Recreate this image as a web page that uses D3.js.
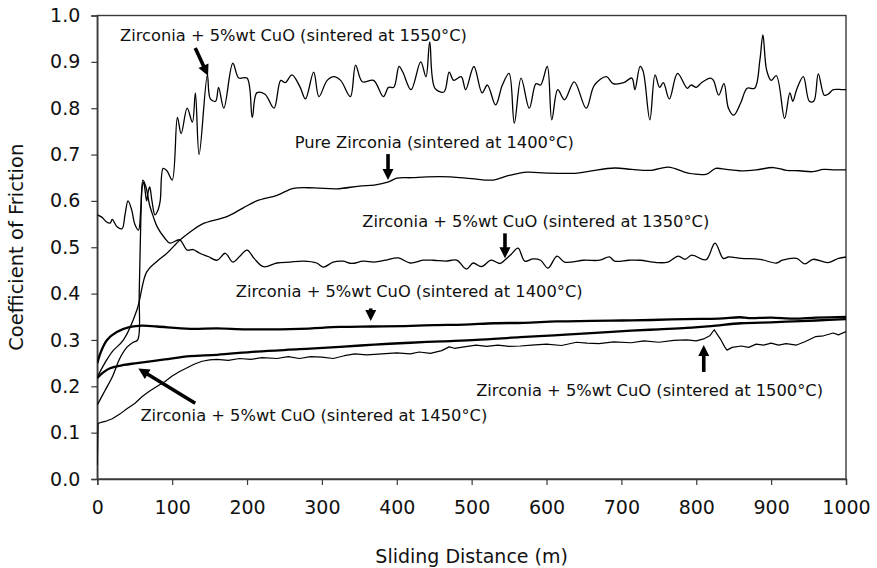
<!DOCTYPE html>
<html><head><meta charset="utf-8">
<script src="https://cdn.jsdelivr.net/npm/d3@7"></script>
<style>body{margin:0;background:#fff}svg{display:block}</style>
</head><body><svg id="c" width="877" height="568"></svg>
<script>
// ---------- data ----------
const xTicks = [0,100,200,300,400,500,600,700,800,900,1000];
const yTicks = [0,0.1,0.2,0.3,0.4,0.5,0.6,0.7,0.8,0.9,1.0];
const xTitle = "Sliding Distance (m)";
const yTitle = "Coefficient of Friction";

const cuo1550 = [[0,0.16],[10,0.19],[20,0.22],[30,0.26],[40,0.285],[48,0.295],[54,0.3],[56,0.4],[58,0.55],[60,0.63],[62,0.64],[64,0.62],[66,0.6],[68,0.62],[70,0.63],[73,0.6],[77,0.57],[81,0.58],[84,0.6],[88,0.67],[93,0.665],[100,0.645],[107,0.78],[112,0.745],[120,0.8],[127,0.77],[131,0.833],[136,0.7],[147,0.872],[151,0.82],[158,0.815],[162,0.845],[169,0.8],[181,0.897],[189,0.865],[200,0.865],[207,0.78],[213,0.833],[224,0.83],[236,0.8],[245,0.86],[251,0.855],[260,0.872],[271,0.845],[278,0.82],[289,0.878],[296,0.825],[307,0.86],[316,0.868],[325,0.86],[338,0.825],[345,0.893],[354,0.857],[369,0.86],[382,0.825],[389,0.845],[396,0.845],[403,0.89],[408,0.878],[419,0.84],[432,0.9],[439,0.868],[444,0.943],[451,0.843],[463,0.835],[470,0.878],[476,0.86],[486,0.868],[492,0.84],[503,0.89],[514,0.833],[521,0.85],[532,0.807],[541,0.85],[550,0.875],[557,0.768],[566,0.865],[577,0.8],[586,0.853],[592,0.85],[601,0.89],[607,0.775],[615,0.84],[624,0.818],[637,0.857],[653,0.8],[664,0.85],[680,0.868],[689,0.853],[703,0.855],[714,0.865],[718,0.84],[725,0.89],[729,0.88],[738,0.775],[745,0.872],[751,0.845],[756,0.855],[764,0.82],[775,0.875],[788,0.843],[793,0.85],[800,0.845],[807,0.855],[819,0.865],[823,0.86],[830,0.828],[837,0.853],[843,0.8],[850,0.785],[859,0.81],[868,0.843],[878,0.843],[885,0.904],[889,0.958],[894,0.882],[900,0.86],[907,0.87],[918,0.778],[925,0.833],[929,0.815],[934,0.84],[943,0.868],[951,0.815],[957,0.815],[963,0.874],[971,0.828],[976,0.83],[983,0.84],[995,0.84],[1000,0.84]];

const pure1400 = [[0,0.22],[10,0.25],[20,0.275],[35,0.3],[53,0.365],[66,0.447],[80,0.47],[93,0.487],[110,0.515],[124,0.533],[140,0.55],[173,0.566],[195,0.585],[213,0.6],[240,0.612],[262,0.627],[290,0.628],[320,0.626],[350,0.632],[370,0.634],[389,0.641],[400,0.649],[420,0.65],[440,0.652],[472,0.652],[500,0.648],[529,0.645],[550,0.655],[574,0.662],[600,0.66],[641,0.66],[660,0.665],[691,0.671],[714,0.668],[740,0.666],[763,0.673],[789,0.66],[814,0.658],[826,0.67],[840,0.668],[858,0.665],[880,0.667],[903,0.672],[920,0.666],[938,0.665],[955,0.663],[970,0.668],[985,0.667],[1000,0.667]];

const cuo1350 = [[0,0.57],[6,0.565],[12,0.555],[17,0.552],[20,0.56],[26,0.545],[33,0.54],[37,0.57],[41,0.6],[46,0.58],[50,0.55],[55,0.537],[58,0.58],[61,0.645],[65,0.63],[70,0.59],[75,0.565],[80,0.544],[90,0.52],[97,0.509],[110,0.516],[120,0.494],[128,0.495],[137,0.487],[148,0.48],[160,0.472],[171,0.487],[181,0.468],[190,0.48],[200,0.494],[210,0.475],[222,0.458],[240,0.466],[257,0.468],[275,0.47],[293,0.466],[302,0.457],[315,0.468],[328,0.47],[340,0.465],[355,0.47],[370,0.468],[385,0.472],[402,0.477],[418,0.466],[435,0.472],[449,0.472],[465,0.47],[480,0.472],[493,0.453],[502,0.466],[513,0.458],[526,0.472],[538,0.465],[544,0.472],[553,0.485],[562,0.498],[571,0.47],[582,0.475],[592,0.472],[602,0.455],[614,0.481],[624,0.468],[650,0.472],[671,0.472],[684,0.479],[691,0.47],[710,0.472],[725,0.472],[747,0.467],[762,0.468],[776,0.481],[785,0.474],[794,0.483],[813,0.473],[825,0.509],[836,0.476],[843,0.479],[860,0.476],[885,0.474],[907,0.466],[915,0.472],[934,0.476],[945,0.464],[956,0.474],[976,0.467],[990,0.476],[1000,0.479]];

const cuo1400 = [[0,0.25],[5,0.275],[13,0.3],[26,0.317],[44,0.328],[60,0.331],[80,0.329],[124,0.324],[160,0.325],[200,0.323],[270,0.324],[324,0.328],[367,0.329],[410,0.33],[450,0.332],[490,0.333],[530,0.336],[570,0.337],[614,0.34],[660,0.341],[700,0.342],[740,0.343],[786,0.345],[830,0.346],[859,0.349],[870,0.347],[900,0.348],[930,0.346],[960,0.348],[1000,0.35]];

const cuo1450 = [[0,0.218],[8,0.23],[17,0.239],[35,0.246],[53,0.25],[90,0.258],[124,0.265],[160,0.268],[213,0.275],[270,0.28],[324,0.285],[370,0.29],[418,0.294],[460,0.297],[506,0.3],[565,0.306],[610,0.31],[654,0.314],[713,0.32],[750,0.323],[787,0.326],[820,0.33],[860,0.336],[900,0.338],[930,0.34],[960,0.342],[1000,0.345]];

const cuo1500 = [[0,0.03],[1,0.12],[5,0.122],[12,0.125],[20,0.13],[30,0.14],[40,0.152],[50,0.163],[60,0.178],[70,0.19],[80,0.2],[90,0.21],[100,0.222],[110,0.232],[120,0.24],[130,0.248],[140,0.254],[150,0.257],[160,0.258],[175,0.256],[190,0.26],[205,0.258],[220,0.262],[240,0.26],[255,0.264],[270,0.26],[285,0.264],[300,0.263],[315,0.26],[330,0.266],[344,0.27],[360,0.268],[380,0.27],[400,0.272],[418,0.27],[430,0.274],[445,0.271],[460,0.277],[470,0.285],[477,0.282],[490,0.285],[506,0.289],[520,0.286],[535,0.289],[550,0.286],[565,0.287],[580,0.289],[600,0.291],[620,0.288],[640,0.295],[654,0.293],[670,0.292],[690,0.296],[713,0.294],[730,0.298],[750,0.295],[770,0.299],[787,0.3],[800,0.298],[811,0.303],[818,0.309],[824,0.322],[828,0.312],[833,0.3],[838,0.285],[841,0.278],[848,0.284],[860,0.287],[870,0.284],[880,0.291],[890,0.289],[900,0.293],[910,0.289],[920,0.292],[934,0.289],[945,0.296],[959,0.307],[970,0.309],[983,0.315],[990,0.311],[1000,0.318]];

// ---------- layout ----------
const M = {left: 97.3, top: 15.5, right: 846, bottom: 479};
const FONT = "'DejaVu Sans', Verdana, sans-serif";

const svg = d3.select("#c");
const x = d3.scaleLinear().domain([0,1000]).range([M.left, M.right]);
const y = d3.scaleLinear().domain([0,1]).range([M.bottom, M.top]);

// frame
svg.append("rect").attr("x", M.left).attr("y", M.top)
  .attr("width", M.right - M.left).attr("height", M.bottom - M.top)
  .attr("fill", "none").attr("stroke", "#3a3a3a").attr("stroke-width", 1.4);

// axes
const xAxis = svg.append("g").attr("transform", `translate(0,${M.bottom})`)
  .call(d3.axisBottom(x).tickValues(xTicks).tickSizeOuter(0).tickSize(6).tickPadding(16).tickFormat(d3.format("d")));
const yAxis = svg.append("g").attr("transform", `translate(${M.left},0)`)
  .call(d3.axisLeft(y).tickValues(yTicks).tickSizeOuter(0).tickSize(6).tickPadding(11).tickFormat(d3.format(".1f")));
[xAxis, yAxis].forEach(g => {
  g.select(".domain").attr("stroke", "#3a3a3a").attr("stroke-width", 1.4);
  g.selectAll(".tick line").attr("stroke", "#3a3a3a").attr("stroke-width", 1.2);
  g.selectAll(".tick text").attr("fill", "#111").style("font-family", FONT).style("font-size", "19px");
});

// titles
svg.append("text").attr("x", (M.left + M.right) / 2).attr("y", 556)
  .attr("text-anchor", "middle").attr("dominant-baseline", "central")
  .style("font-family", FONT).style("font-size", "19px").attr("fill", "#111").text(xTitle);
svg.append("text").attr("transform", `translate(16,${(M.top + M.bottom) / 2}) rotate(-90)`)
  .attr("text-anchor", "middle").attr("dominant-baseline", "central")
  .style("font-family", FONT).style("font-size", "19.5px").attr("fill", "#111").text(yTitle);

// series
svg.append("clipPath").attr("id", "pc").append("rect")
  .attr("x", M.left).attr("y", M.top).attr("width", M.right - M.left).attr("height", M.bottom - M.top);
const smooth = d3.line().x(d => x(d[0])).y(d => y(d[1])).curve(d3.curveCatmullRom.alpha(0.5));
const straight = d3.line().x(d => x(d[0])).y(d => y(d[1]));
const series = [
  {data: cuo1550, w: 1.3, gen: smooth},
  {data: pure1400, w: 1.3, gen: smooth},
  {data: cuo1350, w: 1.3, gen: smooth},
  {data: cuo1500, w: 1.2, gen: straight},
  {data: cuo1450, w: 2.3, gen: smooth},
  {data: cuo1400, w: 2.3, gen: smooth}
];
const gS = svg.append("g").attr("clip-path", "url(#pc)");
series.forEach(s => gS.append("path").attr("d", s.gen(s.data))
  .attr("fill", "none").attr("stroke", "#000").attr("stroke-width", s.w).attr("stroke-linejoin", "round"));

// annotations (positions in data units)
const labels = [
  {t: "Zirconia + 5%wt CuO (sintered at 1550°C)", cx: 262, cy: 0.956, a: [[130.8,0.93],[148,0.87]]},
  {t: "Pure Zirconia (sintered at 1400°C)", cx: 450, cy: 0.727, a: [[388.3,0.701],[388.3,0.645]]},
  {t: "Zirconia + 5%wt CuO (sintered at 1350°C)", cx: 585.7, cy: 0.555, a: [[544.5,0.53],[544.5,0.476]]},
  {t: "Zirconia + 5%wt CuO (sintered at 1400°C)", cx: 416.6, cy: 0.4056, a: [[365.2,0.368],[365.2,0.341]]},
  {t: "Zirconia + 5%wt CuO (sintered at 1500°C)", cx: 737.7, cy: 0.192, a: [[810,0.231],[810,0.289]]},
  {t: "Zirconia + 5%wt CuO (sintered at 1450°C)", cx: 289.2, cy: 0.138, a: [[130.8,0.1633],[54.8,0.2384]]}
];
const gA = svg.append("g");
labels.forEach(l => {
  gA.append("text").attr("x", x(l.cx)).attr("y", y(l.cy))
    .attr("text-anchor", "middle").attr("dominant-baseline", "central")
    .style("font-family", FONT).style("font-size", "16.3px").attr("fill", "#111").text(l.t);
  const x1 = x(l.a[0][0]), y1 = y(l.a[0][1]), x2 = x(l.a[1][0]), y2 = y(l.a[1][1]);
  const dx = x2 - x1, dy = y2 - y1, len = Math.hypot(dx, dy);
  const ux = dx / len, uy = dy / len, hl = 11, hw = 5.5;
  const bx = x2 - ux * hl, by = y2 - uy * hl;
  gA.append("line").attr("x1", x1).attr("y1", y1).attr("x2", bx + ux).attr("y2", by + uy)
    .attr("stroke", "#000").attr("stroke-width", 3.6);
  gA.append("path").attr("d", `M${x2},${y2}L${bx - uy * hw},${by + ux * hw}L${bx + uy * hw},${by - ux * hw}Z`)
    .attr("fill", "#000");
});
</script></body></html>
